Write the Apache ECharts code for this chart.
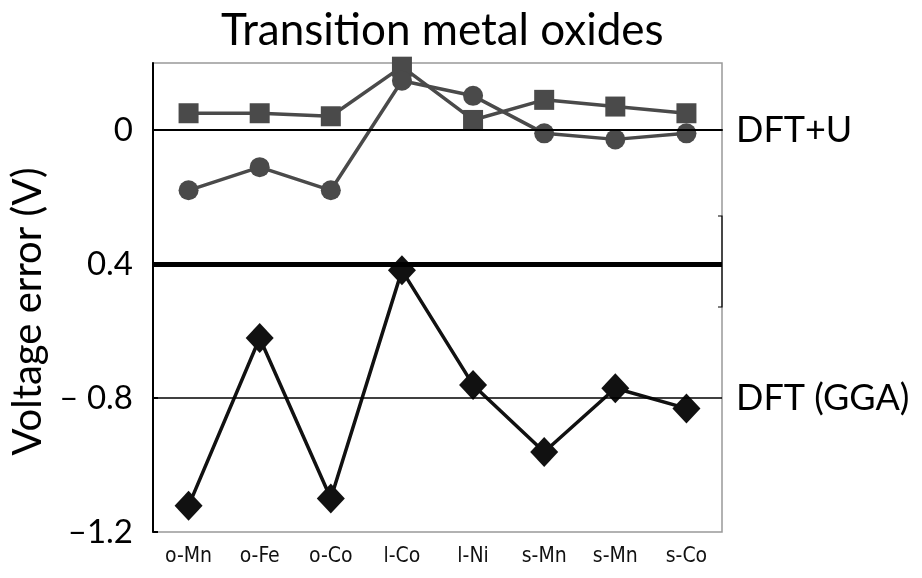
<!DOCTYPE html>
<html>
<head>
<meta charset="utf-8">
<script src="https://cdn.jsdelivr.net/npm/echarts@6/dist/echarts.min.js"></script>
<style>
  html, body { margin: 0; padding: 0; background: #fff; }
  #main { width: 922px; height: 578px; }
</style>
</head>
<body>
<div id="main"></div>
<script>
var categories = ['o-Mn', 'o-Fe', 'o-Co', 'l-Co', 'l-Ni', 's-Mn', 's-Mn', 's-Co']
// DFT+U, two sets of points near zero
var dftuSquares = [0.050, 0.050, 0.041, 0.189, 0.030, 0.090, 0.070, 0.050]
var dftuCircles = [-0.180, -0.111, -0.180, 0.147, 0.102, -0.010, -0.028, -0.010]
// plain GGA
var ggaDiamonds = [-1.122, -0.621, -1.100, -0.419, -0.761, -0.961, -0.771, -0.831]
// tick labels as printed on the figure
var tickValues = [0, -0.4, -0.8, -1.2]
var tickLabels = ['0', '0.4', '\u2013 0.8', '\u20131.2']

var myChart = echarts.init(document.getElementById('main'))
var font = 'Lato, "Open Sans", sans-serif'

myChart.setOption({
  animation: false,
  title: {
    text: 'Transition metal oxides',
    left: 216,
    top: 4,
    textStyle: { fontFamily: font, fontSize: 44, fontWeight: 'normal', color: '#000' }
  },
  grid: {
    left: 153, right: 200, top: 63, bottom: 46,
    show: true, borderColor: '#999', borderWidth: 1.5
  },
  xAxis: {
    type: 'category',
    data: categories,
    boundaryGap: true,
    axisLine: { lineStyle: { color: '#000', width: 2 } },
    axisTick: { inside: true, length: 8, lineStyle: { color: '#000', width: 2 } },
    axisLabel: {
      color: '#111', fontSize: 21, margin: 14,
      fontFamily: '"DejaVu Sans Condensed", "DejaVu Sans", sans-serif'
    }
  },
  yAxis: {
    type: 'value',
    min: -1.2,
    max: 0.2,
    interval: 0.4,
    name: 'Voltage error (V)',
    nameLocation: 'middle',
    nameRotate: 90,
    nameGap: 104,
    nameTextStyle: { fontFamily: font, fontSize: 40, color: '#000', padding: [0, 28, 0, 0] },
    splitLine: { show: false },
    axisLine: { show: true, lineStyle: { color: '#000', width: 2 } },
    axisTick: { show: true, inside: true, length: 5, lineStyle: { color: '#000', width: 2 } },
    axisLabel: {
      color: '#000', fontSize: 33, fontFamily: font, margin: 20,
      showMaxLabel: false,
      formatter: function (v) {
        for (var i = 0; i < tickValues.length; i++) {
          if (Math.abs(v - tickValues[i]) < 1e-6) return tickLabels[i]
        }
        return ''
      }
    }
  },
  graphic: [
    // little bracket on the right edge at the axis break
    {
      type: 'polyline',
      shape: { points: [[718, 216], [722, 216], [722, 307], [718, 307]] },
      style: { stroke: '#000', lineWidth: 1.2, fill: null },
      z: 10
    }
  ],
  series: [
    {
      name: 'DFT+U squares',
      type: 'line',
      data: dftuSquares,
      symbol: 'rect',
      symbolSize: 20,
      itemStyle: { color: '#4a4a4a' },
      lineStyle: { color: '#4a4a4a', width: 3.5 },
      z: 3,
      markLine: {
        silent: true,
        symbol: 'none',
        lineStyle: { color: '#000', type: 'solid' },
        label: {
          position: 'end', distance: 14, color: '#000',
          fontFamily: font, fontSize: 36
        },
        data: [
          { yAxis: 0, label: { formatter: 'DFT+U', padding: [8, 0, 0, 0] }, lineStyle: { width: 2 } },
          { yAxis: -0.4, label: { show: false }, lineStyle: { width: 5 } },
          { yAxis: -0.8, label: { formatter: 'DFT (GGA)' }, lineStyle: { width: 1.5 } }
        ]
      }
    },
    {
      name: 'DFT+U circles',
      type: 'line',
      data: dftuCircles,
      symbol: 'circle',
      symbolSize: 20,
      itemStyle: { color: '#4a4a4a' },
      lineStyle: { color: '#4a4a4a', width: 3.5 },
      z: 3
    },
    {
      name: 'DFT (GGA)',
      type: 'line',
      data: ggaDiamonds,
      symbol: 'diamond',
      symbolSize: [28, 30],
      itemStyle: { color: '#111' },
      lineStyle: { color: '#111', width: 3.5 },
      z: 4
    }
  ]
})
</script>
</body>
</html>
